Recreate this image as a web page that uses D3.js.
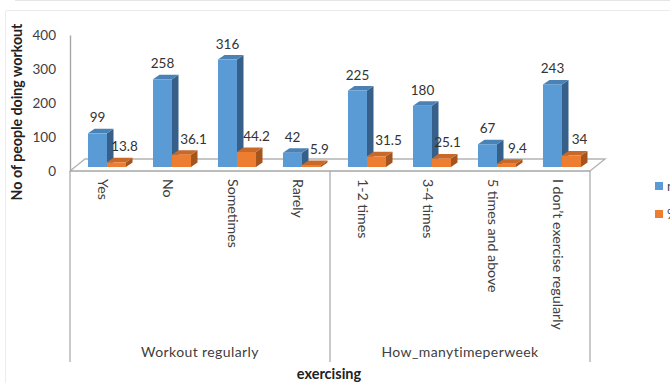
<!DOCTYPE html>
<html>
<head>
<meta charset="utf-8">
<script src="https://cdn.jsdelivr.net/npm/d3@7/dist/d3.min.js"></script>
<style>
  html, body { margin: 0; padding: 0; background: #fff; overflow: hidden; }
  text { font-family: Lato, "Open Sans", sans-serif; fill: #404040; }
</style>
</head>
<body>
<script>
// Survey responses, two measures per answer
const categories = ["Yes", "No", "Sometimes", "Rarely", "1-2 times", "3-4 times", "5 times and above", "I don\u2019t exercise regularly"];
const groupNames = ["Workout regularly", "How_manytimeperweek"];
const groupSizes = [4, 4];
const countValues = [99, 258, 316, 42, 225, 180, 67, 243];
const percentValues = [13.8, 36.1, 44.2, 5.9, 31.5, 25.1, 9.4, 34];
const seriesNames = ["n", "%"];
const yTicks = [0, 100, 200, 300, 400];

const W = 670, H = 383;
const palette = [
  { front: "#5B9BD5", side: "#36608A", top: "#4A82B6" },
  { front: "#ED7D31", side: "#A5551C", top: "#C8692A" }
];
const depth = { x: 6.5, y: 4.5 };
// Horizontal offset of each percentage label so it clears the taller neighbouring bar
const percentLabelShift = [8, 12, 10, 8, 12, 6, 11, 8];

const svg = d3.select("body").append("svg").attr("width", W).attr("height", H).style("display", "block");

// Card outline of the page around the figure
svg.append("path").attr("d", "M15,0.5H670").attr("stroke", "#e6e6e6").attr("fill", "none");
svg.append("path").attr("d", "M670,10.5H7Q5.5,10.5 5.5,12V383").attr("stroke", "#ececec").attr("fill", "none");

const axisLeftX = 70, axisRightX = 590, floorFront = 171, floorBack = 159, floorShift = 15;

const yAxisScale = d3.scaleLinear().domain([0, 400]).range([floorFront, 35]);
const yBar = d3.scaleLinear().domain([0, 400]).range([167, 31]);
const x0 = d3.scaleBand().domain(categories).range([axisLeftX + 4.5, axisRightX + 4.5]).paddingInner(0.415).paddingOuter(0.2075);
const x1 = d3.scaleBand().domain(seriesNames).range([0, x0.bandwidth()]);
const axisX = d3.scaleBand().domain(categories).range([axisLeftX, axisRightX]);

// Floor of the 3-D plot
svg.append("path")
  .attr("d", `M${axisLeftX},${floorFront}L${axisLeftX + floorShift},${floorBack}H${axisRightX + floorShift}L${axisRightX},${floorFront}`)
  .attr("fill", "none").attr("stroke", "#b4b4b4").attr("stroke-width", 1.4);

// Value axis
const yAxis = svg.append("g").attr("transform", `translate(${axisLeftX},0)`)
  .call(d3.axisLeft(yAxisScale).tickValues(yTicks).tickSize(0).tickPadding(14));
yAxis.select(".domain").attr("stroke", "#a6a6a6").attr("stroke-width", 1.4);
yAxis.selectAll("text").style("font-size", "13.5px").style("fill", "#404040").style("font-family", "Lato");

// Front floor edge and the group separators below it
svg.append("line").attr("x1", axisLeftX).attr("x2", axisRightX).attr("y1", floorFront).attr("y2", floorFront)
  .attr("stroke", "#a6a6a6").attr("stroke-width", 1.6);

let cursor = 0;
groupSizes.forEach((n, i) => {
  const first = categories[cursor];
  const last = categories[cursor + n - 1];
  const left = axisX(first), right = axisX(last) + axisX.bandwidth();
  svg.append("text").attr("x", (left + right) / 2).attr("y", 357).attr("text-anchor", "middle")
    .style("font-size", "14px").style("letter-spacing", "0.4px").text(groupNames[i]);
  if (i === 0) svg.append("line").attr("x1", left).attr("x2", left).attr("y1", floorFront).attr("y2", 362).attr("stroke", "#a6a6a6").attr("stroke-width", 1.2);
  svg.append("line").attr("x1", right).attr("x2", right).attr("y1", floorFront).attr("y2", 362).attr("stroke", "#a6a6a6").attr("stroke-width", 1.2);
  cursor += n;
});

// Vertical category labels
svg.selectAll(".cat").data(categories).join("text").attr("class", "cat")
  .attr("transform", d => `translate(${axisX(d) + axisX.bandwidth() / 2 - 4.5},179) rotate(90)`)
  .style("font-size", "14.2px")
  .text(d => d);

// Extruded bars: side, top, then front face
const rows = categories.map((c, i) => [
  { cat: c, s: 0, v: countValues[i], shift: 0 },
  { cat: c, s: 1, v: percentValues[i], shift: percentLabelShift[i] }
]).flat();

const barGroups = svg.selectAll(".bar").data(rows).join("g").attr("class", "bar");
barGroups.each(function (d) {
  const g = d3.select(this);
  const left = x0(d.cat) + x1(seriesNames[d.s]);
  const w = x1.bandwidth();
  const top = yBar(d.v), base = yBar(0);
  const c = palette[d.s];
  g.append("path").attr("fill", c.side)
    .attr("d", `M${left + w},${top}l${depth.x},${-depth.y}V${base - depth.y}L${left + w},${base}Z`);
  g.append("path").attr("fill", c.top)
    .attr("d", `M${left},${top}l${depth.x},${-depth.y}h${w}l${-depth.x},${depth.y}Z`);
  g.append("rect").attr("x", left).attr("y", top).attr("width", w).attr("height", base - top).attr("fill", c.front);
});

// Value labels
svg.selectAll(".val").data(rows).join("text").attr("class", "val")
  .attr("x", d => x0(d.cat) + x1(seriesNames[d.s]) + x1.bandwidth() / 2 + d.shift)
  .attr("y", d => yBar(d.v) - 11)
  .attr("text-anchor", "middle")
  .style("font-size", "13.5px")
  .style("fill", "#333")
  .text(d => d.v);

// Axis titles
svg.append("text").attr("transform", "translate(22,112) rotate(-90)").attr("text-anchor", "middle")
  .style("font-size", "14.2px").style("font-weight", "700").style("fill", "#222").text("No of people doing workout");
svg.append("text").attr("x", 329).attr("y", 379).attr("text-anchor", "middle")
  .style("font-size", "14.5px").style("font-weight", "700").style("fill", "#222").text("exercising");

// Legend, running past the right edge of the frame
const legend = svg.selectAll(".key").data(seriesNames).join("g").attr("class", "key")
  .attr("transform", (d, i) => `translate(655,${182 + i * 28})`);
legend.append("rect").attr("width", 8).attr("height", 8).attr("fill", (d, i) => palette[i].front);
legend.append("text").attr("x", 12).attr("y", 9).style("font-size", "13px").text(d => d);
</script>
</body>
</html>
